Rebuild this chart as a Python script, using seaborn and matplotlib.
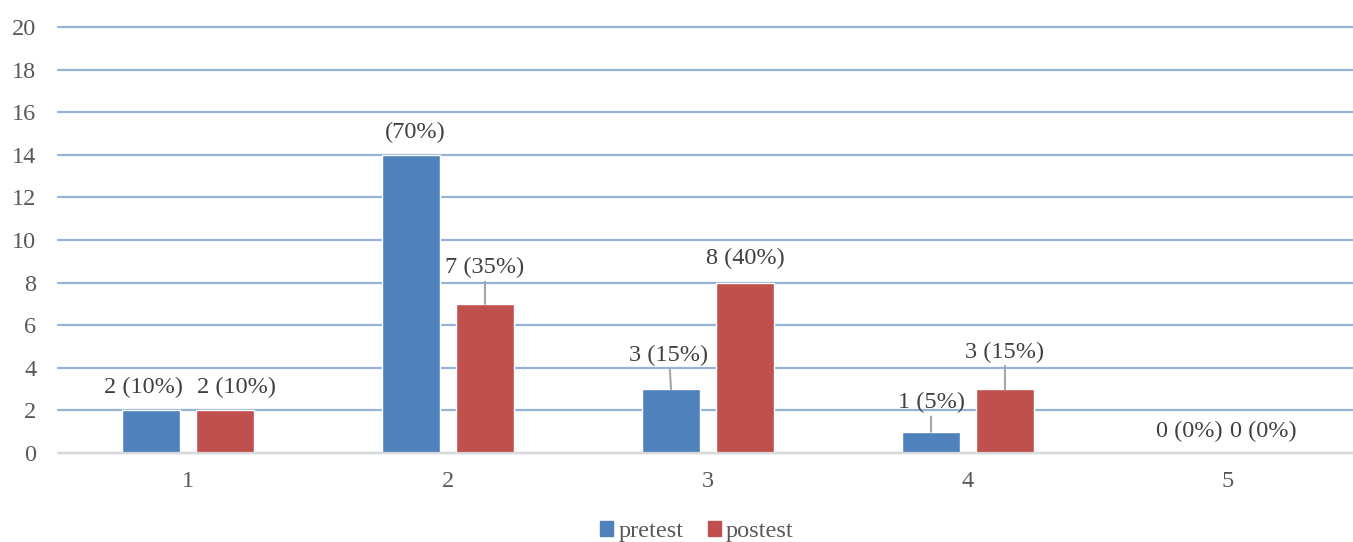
import pandas as pd
import numpy as np
import matplotlib.pyplot as plt
import seaborn as sns

# data
categories = ["1", "2", "3", "4", "5"]
pretest = [2, 14, 3, 1, 0]
postest = [2, 7, 8, 3, 0]
pretest_labels = ["2 (10%)", "(70%)", "3 (15%)", "1 (5%)", "0 (0%)"]
postest_labels = ["2 (10%)", "7 (35%)", "8 (40%)", "3 (15%)", "0 (0%)"]

# label placement (pixel offsets from the bar top) and leader-line flags
pre_offsets = [(-8, 23), (4, 22), (-2, 34), (0, 29), (-2, 22)]
post_offsets = [(12, 23), (0, 36), (0, 24), (0, 37), (-2, 22)]
pre_leader = [False, False, True, True, False]
post_leader = [False, True, False, True, False]

BLUE = "#4F81BD"
RED = "#C0504D"
TEXT = "#595959"
FS = 17.5

sns.set_theme(style="white")
plt.rcParams["font.family"] = ["Liberation Serif", "DejaVu Serif"]

df = pd.DataFrame({
    "cat": categories * 2,
    "value": pretest + postest,
    "group": ["pretest"] * len(categories) + ["postest"] * len(categories),
})

fig = plt.figure(figsize=(13.53, 5.42), dpi=100)
ax = fig.add_axes([58 / 1353, 1 - 453 / 542, 1300 / 1353, 426 / 542])

sns.barplot(data=df, x="cat", y="value", hue="group", palette=[BLUE, RED],
            width=0.569, gap=0.216, saturation=1, ax=ax, legend=False)

ax.set_xlim(-0.5, 4.5)
ax.set_ylim(0, 20)
ax.set_yticks(np.arange(0, 21, 2))
ax.yaxis.grid(True, color="#95B3D7", linewidth=1.6)
for gl in ax.get_ygridlines():
    gl.set_clip_on(False)
ax.set_axisbelow(True)
for s in ["top", "right", "left"]:
    ax.spines[s].set_visible(False)
ax.spines["bottom"].set_color("#D9D9D9")
ax.spines["bottom"].set_linewidth(1.6)
ax.tick_params(axis="both", length=0, labelsize=FS, colors=TEXT)
ax.tick_params(axis="x", pad=13)
ax.tick_params(axis="y", pad=15.5)
ax.set_xlabel("")
ax.set_ylabel("")

px2pt = 72 / 100.0
groups = [(ax.containers[0], pretest_labels, pre_offsets, pre_leader),
          (ax.containers[1], postest_labels, post_offsets, post_leader)]
for bars, labels, offsets, leaders in groups:
    for bar, lab, (dx, dy), lead in zip(bars, labels, offsets, leaders):
        x = bar.get_x() + bar.get_width() / 2
        y = bar.get_height()
        arrow = None
        if lead:
            arrow = dict(arrowstyle="-", color="#A6A6A6", lw=1.5,
                         shrinkA=0, shrinkB=0)
        ax.annotate(lab, xy=(x, y), xytext=(dx * px2pt, dy * px2pt),
                    textcoords="offset points", ha="center", va="center",
                    fontsize=FS, color="#404040", arrowprops=arrow,
                    annotation_clip=False)

handles = [plt.Rectangle((0, 0), 1, 1, color=BLUE),
           plt.Rectangle((0, 0), 1, 1, color=RED)]
fig.legend(handles, ["pretest", "postest"], loc="lower center",
           bbox_to_anchor=(0.515, -0.04), ncol=2, frameon=False,
           fontsize=FS, labelcolor=TEXT, handlelength=0.55, handleheight=0.55,
           handletextpad=0.2, columnspacing=1.0)

fig.savefig("out.png", dpi=100)
